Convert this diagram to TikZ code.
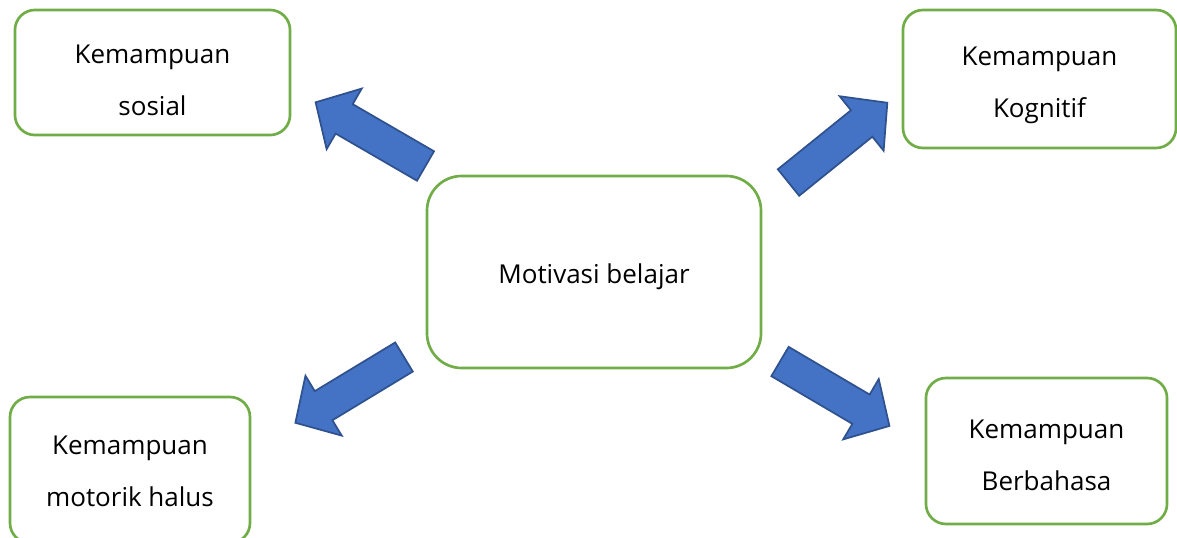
\documentclass[tikz,border=0pt]{standalone}
\usepackage{fontspec}
\setmainfont{Open Sans}
\definecolor{hijau}{RGB}{112,173,71}
\definecolor{biru}{RGB}{68,114,196}
\definecolor{birutua}{RGB}{47,82,143}

\tikzset{
  kotak/.style={draw=hijau, line width=2pt, rounded corners=15pt, fill=white, inner sep=0pt},
  teks/.style={align=center, inner sep=0pt, font=\fontsize{19.5}{39}\selectfont},
  panah/.pic={
    \draw[fill=biru, draw=birutua, line width=1.3pt, line join=miter]
      (0,-17) -- (94,-17) -- (94,-35) -- (127,0) -- (94,35) -- (94,17) -- (0,17) -- cycle;
  }
}

\begin{document}
\begin{tikzpicture}
    [x=0.75pt,y=0.75pt]
    \useasboundingbox (0,0) rectangle (1177,537);

    \node[kotak, minimum width=206.3pt, minimum height=93.8pt] (sosial) at (152.5,464.5) {};
    \node[kotak, minimum width=204.8pt, minimum height=103.5pt] (kognitif) at (1039.5,458) {};
    \node[kotak, minimum width=250.5pt, minimum height=144pt, rounded corners=26pt] (motivasi) at (594,265) {};
    \node[kotak, minimum width=180pt, minimum height=109.5pt] (motorik) at (130,67) {};
    \node[kotak, minimum width=180.8pt, minimum height=109.5pt] (berbahasa) at (1046.5,86) {};

    \node[teks] (sosialteks) at ([yshift=-6pt]sosial.center) {Kemampuan\\sosial};
    \node[teks] (kognitifteks) at ([yshift=-4.9pt]kognitif.center) {Kemampuan\\Kognitif};
    \node[teks] (motivasiteks) at ([yshift=-3.8pt]motivasi.center) {Motivasi belajar};
    \node[teks] (motorikteks) at ([yshift=-0.8pt]motorik.center) {Kemampuan\\motorik halus};
    \node[teks] (berbahasateks) at ([yshift=-3pt]berbahasa.center) {Kemampuan\\Berbahasa};

    \pic[rotate=149.9] at (425.5,371) {panah};
    \pic[rotate=38.9] at (788.5,354.5) {panah};
    \pic[rotate=211.2] at (404,180) {panah};
    \pic[rotate=-30.5] at (780,175.5) {panah};
\end{tikzpicture}
\end{document}
